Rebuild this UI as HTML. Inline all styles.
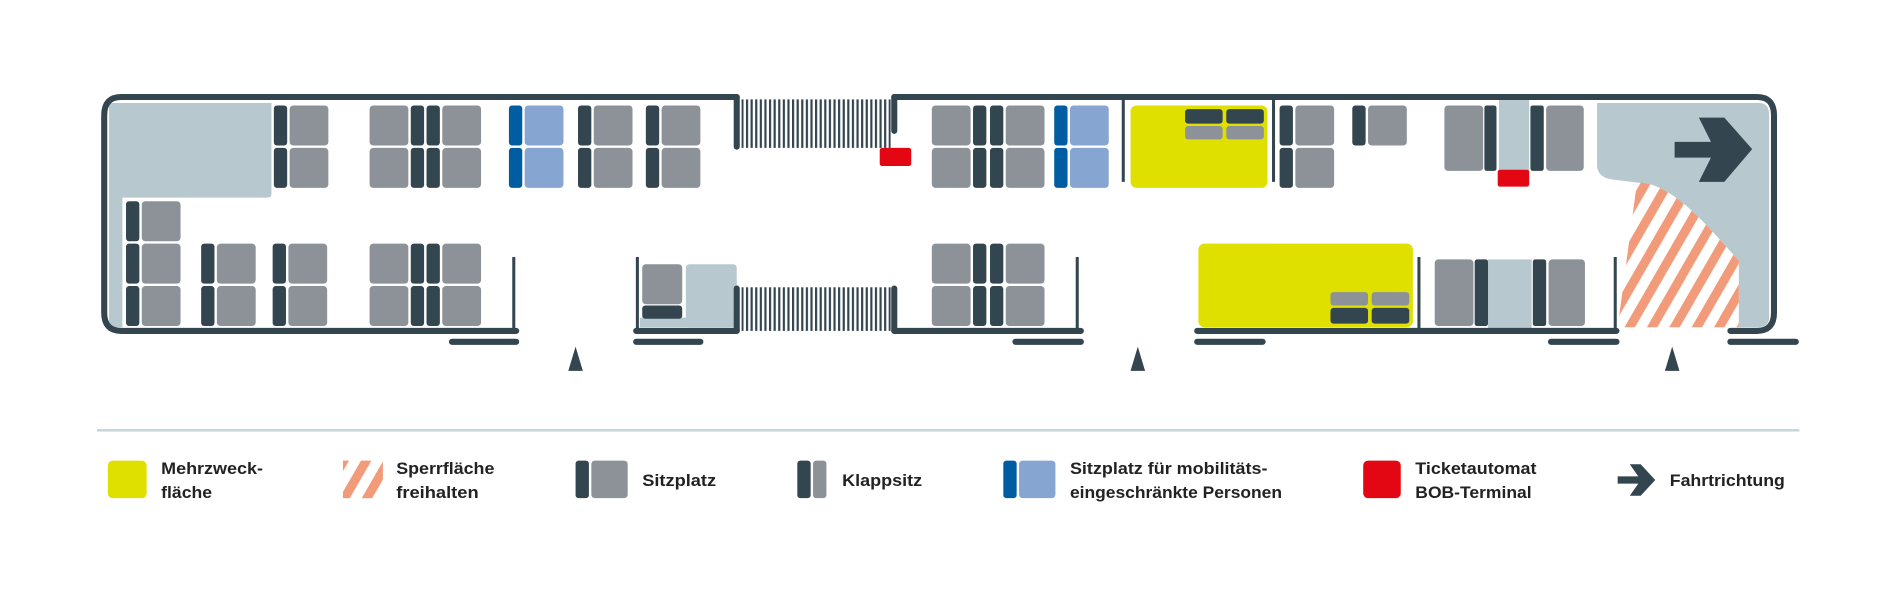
<!DOCTYPE html>
<html><head><meta charset="utf-8"><style>
html,body{margin:0;padding:0;background:#fff;}
svg{display:block;}
text{font-family:"Liberation Sans",sans-serif;font-weight:bold;font-size:14px;fill:#222;}
</style></head><body>
<svg width="1900" height="600" viewBox="0 0 1568 495" preserveAspectRatio="none" xmlns="http://www.w3.org/2000/svg">
<defs>
<symbol id="sL" overflow="visible"><rect x="0" y="0" width="11" height="33" rx="2.5" fill="#33454f"/><rect x="13" y="0" width="32" height="33" rx="3" fill="#8c9298"/></symbol>
<symbol id="sR" overflow="visible"><rect x="0" y="0" width="32" height="33" rx="3" fill="#8c9298"/><rect x="34" y="0" width="11" height="33" rx="2.5" fill="#33454f"/></symbol>
<symbol id="sB" overflow="visible"><rect x="0" y="0" width="11" height="33" rx="2.5" fill="#005da2"/><rect x="13" y="0" width="32" height="33" rx="3" fill="#86a5d1"/></symbol>
<pattern id="st" width="3.8" height="10" patternUnits="userSpaceOnUse"><rect x="0" y="0" width="1.8" height="10" fill="#33454f"/></pattern>
<pattern id="ht" width="16" height="16" patternUnits="userSpaceOnUse" patternTransform="rotate(30)"><rect x="0" y="0" width="7.5" height="16" fill="#f29b7a"/></pattern>
</defs>
<!-- light blue areas -->
<path d="M90,85 L224,85 L224,160 Q224,163 221,163 L101,163 L101,270 L90,270 Z" fill="#b7c8cf"/>
<path d="M1318,85 L1452,85 Q1460,85 1460,95 L1460,262 Q1460,270 1450,270 L1435,270 L1435,215 C1412,190 1388,160 1362,152 L1330,148 Q1318,146 1318,136 Z" fill="#b7c8cf"/>
<path d="M1351,150 L1335,270 L1435,270 L1435,215 C1412,190 1388,160 1362,152 Z" fill="url(#ht)"/>
<rect x="1237" y="80" width="25" height="61" fill="#b7c8cf"/>
<rect x="1228" y="214" width="36" height="59" fill="#b7c8cf"/>
<rect x="566" y="218" width="42" height="52" rx="3" fill="#b7c8cf"/>
<rect x="528" y="262" width="80" height="8" fill="#b7c8cf"/>
<!-- stairs -->
<rect x="612" y="82" width="123" height="40" fill="url(#st)"/>
<rect x="612" y="237" width="123" height="36" fill="url(#st)"/>
<!-- bus outline -->
<g fill="none" stroke="#33454f" stroke-width="5" stroke-linecap="round">
<path d="M608,80 L100,80 Q86,80 86,95 L86,258 Q86,273 100,273 L426,273"/>
<path d="M738,80 L1450,80 Q1464,80 1464,95 L1464,258 Q1464,273 1450,273 L1428,273"/>
<path d="M525,273 L608,273"/>
<path d="M738,273 L892,273"/>
<path d="M988,273 L1334,273"/>
<path d="M608,80 L608,121"/><path d="M738,80 L738,108"/>
<path d="M608,238 L608,273"/><path d="M738,238 L738,273"/>
<path d="M373,282 L426,282"/><path d="M525,282 L578,282"/><path d="M838,282 L892,282"/><path d="M988,282 L1042,282"/><path d="M1280,282 L1334,282"/><path d="M1428,282 L1482,282"/>
</g>
<g fill="none" stroke="#33454f" stroke-width="2.5">
<path d="M424,212 L424,273"/><path d="M526,212 L526,273"/><path d="M889,212 L889,273"/><path d="M1171,212 L1171,273"/><path d="M1333,212 L1333,273"/>
<path d="M927,80 L927,150"/><path d="M1051,80 L1051,150"/>
</g>
<!-- triangles -->
<path d="M475,286 L481,306 L469,306 Z" fill="#33454f"/>
<path d="M939,286 L945,306 L933,306 Z" fill="#33454f"/>
<path d="M1380,286 L1386,306 L1374,306 Z" fill="#33454f"/>
<!-- seats top -->
<use href="#sL" x="226" y="87"/><use href="#sL" x="226" y="122"/>
<use href="#sR" x="305" y="87"/><use href="#sR" x="305" y="122"/>
<use href="#sL" x="352" y="87"/><use href="#sL" x="352" y="122"/>
<use href="#sB" x="420" y="87"/><use href="#sB" x="420" y="122"/>
<use href="#sL" x="477" y="87"/><use href="#sL" x="477" y="122"/>
<use href="#sL" x="533" y="87"/><use href="#sL" x="533" y="122"/>
<use href="#sR" x="769" y="87"/><use href="#sR" x="769" y="122"/>
<use href="#sL" x="817" y="87"/><use href="#sL" x="817" y="122"/>
<use href="#sB" x="870" y="87"/><use href="#sB" x="870" y="122"/>
<use href="#sL" x="1056" y="87"/><use href="#sL" x="1056" y="122"/>
<use href="#sL" x="1116" y="87"/>
<!-- seats bottom -->
<use href="#sL" x="104" y="166"/><use href="#sL" x="104" y="201"/><use href="#sL" x="104" y="236"/>
<use href="#sL" x="166" y="201"/><use href="#sL" x="166" y="236"/>
<use href="#sL" x="225" y="201"/><use href="#sL" x="225" y="236"/>
<use href="#sR" x="305" y="201"/><use href="#sR" x="305" y="236"/>
<use href="#sL" x="352" y="201"/><use href="#sL" x="352" y="236"/>
<use href="#sR" x="769" y="201"/><use href="#sR" x="769" y="236"/>
<use href="#sL" x="817" y="201"/><use href="#sL" x="817" y="236"/>
<!-- seat near stairs -->
<rect x="530" y="218" width="33" height="33" rx="3" fill="#8c9298"/>
<rect x="530" y="252" width="33" height="11" rx="2.5" fill="#33454f"/>
<!-- tall seats -->
<rect x="1192" y="87" width="32" height="54" rx="3" fill="#8c9298"/><rect x="1225" y="87" width="10" height="54" rx="2" fill="#33454f"/>
<rect x="1263" y="87" width="11" height="54" rx="2" fill="#33454f"/><rect x="1276" y="87" width="31" height="54" rx="3" fill="#8c9298"/>
<rect x="1184" y="214" width="32" height="55" rx="3" fill="#8c9298"/><rect x="1217" y="214" width="11" height="55" rx="2" fill="#33454f"/>
<rect x="1265" y="214" width="11" height="55" rx="2" fill="#33454f"/><rect x="1278" y="214" width="30" height="55" rx="3" fill="#8c9298"/>
<!-- yellow areas -->
<rect x="933" y="87" width="113" height="68" rx="5" fill="#dfdf00"/>
<rect x="978" y="90" width="31" height="12" rx="2.5" fill="#33454f"/><rect x="1012" y="90" width="31" height="12" rx="2.5" fill="#33454f"/>
<rect x="978" y="104" width="31" height="11" rx="2.5" fill="#8c9298"/><rect x="1012" y="104" width="31" height="11" rx="2.5" fill="#8c9298"/>
<rect x="989" y="201" width="177" height="69" rx="5" fill="#dfdf00"/>
<rect x="1098" y="241" width="31" height="11" rx="2.5" fill="#8c9298"/><rect x="1132" y="241" width="31" height="11" rx="2.5" fill="#8c9298"/>
<rect x="1098" y="254" width="31" height="13" rx="2.5" fill="#33454f"/><rect x="1132" y="254" width="31" height="13" rx="2.5" fill="#33454f"/>
<!-- red -->
<rect x="726" y="122" width="26" height="15" rx="2" fill="#e30613"/>
<rect x="1236" y="140" width="26" height="14" rx="2" fill="#e30613"/>
<!-- arrow -->
<path d="M1382,117 L1412,117 L1402,97 L1423,97 L1446,123 L1423,150 L1402,150 L1412,130 L1382,130 Z" fill="#33454f"/>
<!-- legend -->
<rect x="80" y="354" width="1405" height="2" fill="#c5d3da"/>
<rect x="89" y="380" width="32" height="31" rx="4" fill="#dfdf00"/>
<text x="133" y="391" textLength="84" lengthAdjust="spacingAndGlyphs">Mehrzweck-</text>
<text x="133" y="411" textLength="42" lengthAdjust="spacingAndGlyphs">fläche</text>
<rect x="283" y="380" width="33" height="31" fill="url(#ht)"/>
<text x="327" y="391" textLength="81" lengthAdjust="spacingAndGlyphs">Sperrfläche</text>
<text x="327" y="411" textLength="68" lengthAdjust="spacingAndGlyphs">freihalten</text>
<rect x="475" y="380" width="11" height="31" rx="2.5" fill="#33454f"/><rect x="488" y="380" width="30" height="31" rx="3" fill="#8c9298"/>
<text x="530" y="401" textLength="61" lengthAdjust="spacingAndGlyphs">Sitzplatz</text>
<rect x="658" y="380" width="11" height="31" rx="2.5" fill="#33454f"/><rect x="671" y="380" width="11" height="31" rx="2.5" fill="#8c9298"/>
<text x="695" y="401" textLength="66" lengthAdjust="spacingAndGlyphs">Klappsitz</text>
<rect x="828" y="380" width="11" height="31" rx="2.5" fill="#005da2"/><rect x="841" y="380" width="30" height="31" rx="3" fill="#86a5d1"/>
<text x="883" y="391" textLength="163" lengthAdjust="spacingAndGlyphs">Sitzplatz für mobilitäts-</text>
<text x="883" y="411" textLength="175" lengthAdjust="spacingAndGlyphs">eingeschränkte Personen</text>
<rect x="1125" y="380" width="31" height="31" rx="4" fill="#e30613"/>
<text x="1168" y="391" textLength="100" lengthAdjust="spacingAndGlyphs">Ticketautomat</text>
<text x="1168" y="411" textLength="96" lengthAdjust="spacingAndGlyphs">BOB-Terminal</text>
<path d="M1335,393 L1352,393 L1345,383 L1354,383 L1366,396 L1354,409 L1345,409 L1352,399 L1335,399 Z" fill="#33454f"/>
<text x="1378" y="401" textLength="95" lengthAdjust="spacingAndGlyphs">Fahrtrichtung</text>
</svg>
</body></html>
